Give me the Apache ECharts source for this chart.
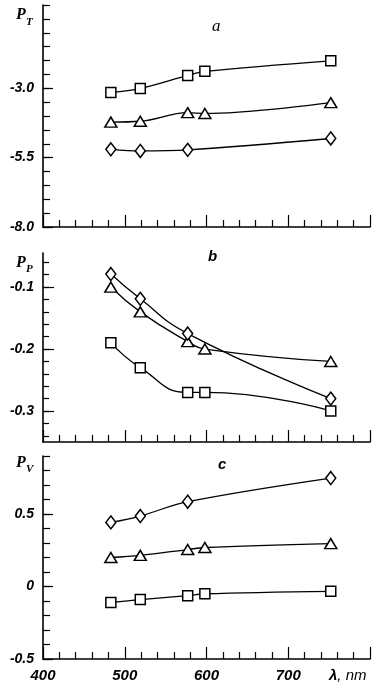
<!DOCTYPE html>
<html>
<head>
<meta charset="utf-8">
<script src="https://cdn.jsdelivr.net/npm/echarts@6/dist/echarts.min.js"></script>
<style>
html,body{margin:0;padding:0;background:#fff;}
#chart{width:382px;height:692px;}
</style>
</head>
<body>
<div id="chart"></div>
<script>
// wavelengths (nm)
var lambdaAll = [483, 519, 577, 598, 752];
var lambdaDiamond = [483, 519, 577, 752];

// panel a: P_T
var ptSquare = [-3.15, -3.01, -2.54, -2.39, -2.01];
var ptTriangle = [-4.22, -4.19, -3.88, -3.91, -3.52];
var ptDiamond = [-5.20, -5.26, -5.22, -4.81];

// panel b: P_P
var ppSquare = [-0.19, -0.23, -0.27, -0.27, -0.30];
var ppTriangle = [-0.10, -0.14, -0.188, -0.20, -0.22];
var ppDiamond = [-0.079, -0.119, -0.175, -0.28];

// panel c: P_V
var pvSquare = [-0.11, -0.09, -0.063, -0.05, -0.033];
var pvTriangle = [0.20, 0.215, 0.255, 0.269, 0.296];
var pvDiamond = [0.442, 0.486, 0.585, 0.748];

// tick labels
var ptLabels = [-8.0, -5.5, -3.0];
var ppLabels = [-0.3, -0.2, -0.1];
var ppTicks = [-0.34, -0.32, -0.30, -0.28, -0.26, -0.24, -0.22, -0.20, -0.18, -0.16, -0.14, -0.12, -0.10, -0.08, -0.06];
var pvLabels = [-0.5, 0, 0.5];
var xLabels = [400, 500, 600, 700];

function pairs(xs, ys) { return xs.map(function (x, i) { return [x, ys[i]]; }); }
function inList(v, list) { return list.some(function (l) { return Math.abs(l - v) < 1e-6; }); }

var fontFam = '"Liberation Sans", Arial, sans-serif';
var yLabelStyle = { color: '#000', fontSize: 14, fontStyle: 'italic', fontWeight: 'bold', fontFamily: fontFam };
var xLabelStyle = { color: '#000', fontSize: 15, fontStyle: 'italic', fontWeight: 'bold', fontFamily: fontFam };
var axisLineStyle = { color: '#000', width: 1.6 };

var grids = [
  { left: 43, right: 12, top: 5, height: 222 },
  { left: 43, right: 12, top: 253, height: 189 },
  { left: 43, right: 12, top: 456, height: 203 }
];

function makeX(gi, showLabels) {
  return {
    type: 'value', gridIndex: gi, min: 400, max: 800, interval: 100,
    axisLine: { show: true, onZero: false, lineStyle: axisLineStyle },
    axisTick: { show: true, inside: true, length: 12, lineStyle: { color: '#000', width: 1.2 } },
    minorTick: { show: true, splitNumber: 5, length: 7, lineStyle: { color: '#000', width: 1.2 } },
    splitLine: { show: false },
    axisLabel: showLabels ? Object.assign({
      show: true, margin: 9,
      formatter: function (v) { return inList(v, xLabels) ? String(v) : ''; }
    }, xLabelStyle) : { show: false }
  };
}

var yAxes = [
  {
    type: 'value', gridIndex: 0, position: 'left', min: -8, max: 0, interval: 0.5,
    axisLine: { show: true, onZero: false, lineStyle: axisLineStyle },
    axisTick: { show: true, inside: true, length: 7, lineStyle: { color: '#000', width: 1.2 } },
    splitLine: { show: false },
    axisLabel: Object.assign({
      margin: 9, customValues: ptLabels,
      formatter: function (v) { return inList(v, ptLabels) ? v.toFixed(1) : ''; }
    }, yLabelStyle)
  },
  {
    type: 'value', gridIndex: 0, position: 'left', min: -8, max: 0,
    axisLine: { show: false, onZero: false },
    axisTick: { show: true, inside: true, length: 10, customValues: ptLabels, lineStyle: { color: '#000', width: 1.2 } },
    splitLine: { show: false }, axisLabel: { show: false }
  },
  {
    type: 'value', gridIndex: 1, position: 'left', min: -0.35, max: -0.045,
    axisLine: { show: true, onZero: false, lineStyle: axisLineStyle },
    axisTick: { show: true, inside: true, length: 6, customValues: ppTicks, lineStyle: { color: '#000', width: 1.2 } },
    splitLine: { show: false },
    axisLabel: Object.assign({
      margin: 9, customValues: ppLabels,
      formatter: function (v) { return inList(v, ppLabels) ? v.toFixed(1) : ''; }
    }, yLabelStyle)
  },
  {
    type: 'value', gridIndex: 1, position: 'left', min: -0.35, max: -0.045,
    axisLine: { show: false, onZero: false },
    axisTick: { show: true, inside: true, length: 11, customValues: ppLabels, lineStyle: { color: '#000', width: 1.2 } },
    splitLine: { show: false }, axisLabel: { show: false }
  },
  {
    type: 'value', gridIndex: 2, position: 'left', min: -0.5, max: 0.9, interval: 0.1,
    axisLine: { show: true, onZero: false, lineStyle: axisLineStyle },
    axisTick: { show: true, inside: true, length: 7, lineStyle: { color: '#000', width: 1.2 } },
    splitLine: { show: false },
    axisLabel: Object.assign({
      margin: 9, customValues: pvLabels,
      formatter: function (v) {
        if (!inList(v, pvLabels)) return '';
        return Math.abs(v) < 1e-9 ? '0' : v.toFixed(1);
      }
    }, yLabelStyle)
  },
  {
    type: 'value', gridIndex: 2, position: 'left', min: -0.5, max: 0.9,
    axisLine: { show: false, onZero: false },
    axisTick: { show: true, inside: true, length: 10, customValues: pvLabels, lineStyle: { color: '#000', width: 1.2 } },
    splitLine: { show: false }, axisLabel: { show: false }
  }
];

var markers = {
  square: { symbol: 'rect', symbolSize: [10, 10] },
  triangle: { symbol: 'triangle', symbolSize: [12, 10] },
  diamond: { symbol: 'diamond', symbolSize: [10, 13] }
};

function ser(gi, yi, xs, ys, kind, sm) {
  return {
    type: 'line', xAxisIndex: gi, yAxisIndex: yi,
    data: pairs(xs, ys),
    smooth: sm,
    symbol: markers[kind].symbol, symbolSize: markers[kind].symbolSize,
    showAllSymbol: true,
    lineStyle: { color: '#000', width: 1.3 },
    itemStyle: { color: '#fff', borderColor: '#000', borderWidth: 1.5 },
    emphasis: { disabled: true },
    animation: false, z: 3
  };
}

var serif = '"Liberation Serif", "Times New Roman", serif';
function txt(x, y, text, size, weight, fam) {
  return {
    type: 'text', x: x, y: y, z: 10,
    style: { text: text, fill: '#000', font: 'italic ' + (weight || 'normal') + ' ' + size + 'px ' + (fam || fontFam), align: 'left', verticalAlign: 'middle' }
  };
}

var option = {
  animation: false,
  backgroundColor: '#fff',
  grid: grids,
  xAxis: [makeX(0, false), makeX(1, false), makeX(2, true)],
  yAxis: yAxes,
  series: [
    ser(0, 0, lambdaAll, ptSquare, 'square', 0.35),
    ser(0, 0, lambdaAll, ptTriangle, 'triangle', 0.35),
    ser(0, 0, lambdaDiamond, ptDiamond, 'diamond', 0.35),
    ser(1, 2, lambdaAll, ppSquare, 'square', 0.5),
    ser(1, 2, lambdaAll, ppTriangle, 'triangle', 0.5),
    ser(1, 2, lambdaDiamond, ppDiamond, 'diamond', 0.5),
    ser(2, 4, lambdaAll, pvSquare, 'square', 0.35),
    ser(2, 4, lambdaAll, pvTriangle, 'triangle', 0.35),
    ser(2, 4, lambdaDiamond, pvDiamond, 'diamond', 0.35)
  ],
  graphic: [
    txt(16, 15, 'P', 16, 'bold', serif),
    txt(26, 22, 'T', 11, 'bold', serif),
    txt(16, 263, 'P', 16, 'bold', serif),
    txt(26, 269, 'P', 11, 'bold', serif),
    txt(16, 463, 'P', 16, 'bold', serif),
    txt(26, 469, 'V', 11, 'bold', serif),
    txt(212, 27, 'a', 17, 'normal', serif),
    txt(208, 257, 'b', 15, 'bold'),
    txt(218, 465, 'c', 15, 'bold'),
    {
      type: 'text', x: 329, y: 676, z: 10,
      style: {
        text: '{l|λ}{n|, nm}', align: 'left', verticalAlign: 'middle',
        rich: {
          l: { fill: '#000', font: 'italic bold 15px ' + fontFam },
          n: { fill: '#000', font: 'italic normal 15px ' + fontFam }
        }
      }
    }
  ]
};

var chart = echarts.init(document.getElementById('chart'), null, { renderer: 'canvas' });
chart.setOption(option);
</script>
</body>
</html>
